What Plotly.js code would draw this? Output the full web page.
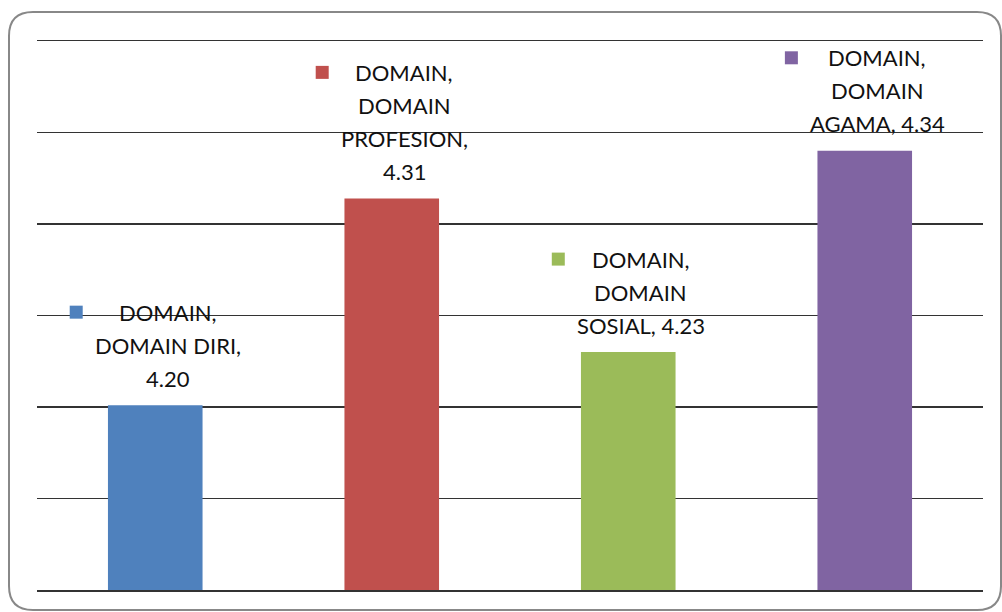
<!DOCTYPE html>
<html>
<head>
<meta charset="utf-8">
<script src="https://cdn.plot.ly/plotly-3.0.1.min.js"></script>
<style>html,body{margin:0;padding:0;background:#fff;}#chart{width:1002px;height:612px;}</style>
</head>
<body>
<div id="chart"></div>
<script>
// ---- data ----
const seriesName = "DOMAIN";
const categories = ["DOMAIN DIRI", "DOMAIN PROFESION", "DOMAIN SOSIAL", "DOMAIN AGAMA"];
const values = [4.201, 4.314, 4.230, 4.340];
const colors = ["#4F81BD", "#C0504D", "#9BBB59", "#8064A2"];
const yRange = [4.10, 4.40];

// ---- layout constants ----
const W = 1002, H = 612;
const M = {l: 37, r: 19, t: 41, b: 22};
const plotW = W - M.l - M.r, plotH = H - M.t - M.b;
const FONT = "Lato, 'Open Sans', sans-serif";
const FSIZE = 22;
const LINE = 33, FIRST = 27, KEY = 13, GAP = 12;

function wrap(text, maxChars) {
  const words = text.split(" ");
  const lines = [];
  let cur = "";
  words.forEach(w => {
    if (!cur) cur = w;
    else if ((cur + " " + w).length <= maxChars) cur += " " + w;
    else { lines.push(cur); cur = w; }
  });
  if (cur) lines.push(cur);
  return lines;
}
const ctx = document.createElement("canvas").getContext("2d");
ctx.font = FSIZE + "px Lato";

const annotations = [];
const shapes = [];
categories.forEach((c, i) => {
  const label = seriesName + ", " + c + ", " + values[i].toFixed(2);
  const lines = wrap(label, 12);
  const tw = Math.max(...lines.map(l => ctx.measureText(l).width));
  const blockW = KEY + GAP + tw;
  const textDx = (KEY + GAP) / 2;
  const n = lines.length;
  lines.forEach((ln, k) => {
    annotations.push({
      x: c, y: values[i], xref: "x", yref: "y",
      text: ln, showarrow: false,
      xanchor: "center", yanchor: "middle",
      xshift: textDx, yshift: FIRST + LINE * (n - 1 - k),
      font: {family: FONT, size: FSIZE, color: "#111"}
    });
  });
  const keyY = FIRST + LINE * (n - 1);
  shapes.push({
    type: "rect", xref: "x", yref: "y",
    xsizemode: "pixel", ysizemode: "pixel",
    xanchor: c, yanchor: values[i],
    x0: -blockW / 2, x1: -blockW / 2 + KEY,
    y0: keyY - KEY / 2, y1: keyY + KEY / 2,
    fillcolor: colors[i], line: {width: 0}
  });
});

// rounded frame (in paper coords)
function px2x(px) { return (px - M.l) / plotW; }
function py2y(py) { return (H - M.b - py) / plotH; }
const fx0 = 9, fx1 = 1001, fy0 = 12, fy1 = 610, R = 24;
const P = (x, y) => px2x(x).toFixed(5) + "," + py2y(y).toFixed(5);
const framePath = "M" + P(fx0 + R, fy0) + " L" + P(fx1 - R, fy0) +
  " Q" + P(fx1, fy0) + " " + P(fx1, fy0 + R) +
  " L" + P(fx1, fy1 - R) + " Q" + P(fx1, fy1) + " " + P(fx1 - R, fy1) +
  " L" + P(fx0 + R, fy1) + " Q" + P(fx0, fy1) + " " + P(fx0, fy1 - R) +
  " L" + P(fx0, fy0 + R) + " Q" + P(fx0, fy0) + " " + P(fx0 + R, fy0) + " Z";
shapes.push({type: "path", xref: "paper", yref: "paper", path: framePath,
  line: {color: "#888", width: 2}, layer: "above"});

const trace = {
  type: "bar", x: categories, y: values,
  marker: {color: colors, line: {width: 0}},
  hoverinfo: "none"
};

const layout = {
  width: W, height: H,
  margin: M,
  paper_bgcolor: "#fff", plot_bgcolor: "#fff",
  showlegend: false,
  bargap: 0.6,
  xaxis: {showticklabels: false, ticks: "", showgrid: false, zeroline: false,
          showline: true, mirror: true, linecolor: "#333", linewidth: 1.5},
  yaxis: {range: yRange, tick0: 4.10, dtick: 0.05, showticklabels: false, ticks: "",
          showgrid: true, gridcolor: "#333", gridwidth: 1.5, zeroline: false, showline: false},
  annotations: annotations,
  shapes: shapes
};
Plotly.newPlot("chart", [trace], layout, {staticPlot: true, displayModeBar: false});
</script>
</body>
</html>
